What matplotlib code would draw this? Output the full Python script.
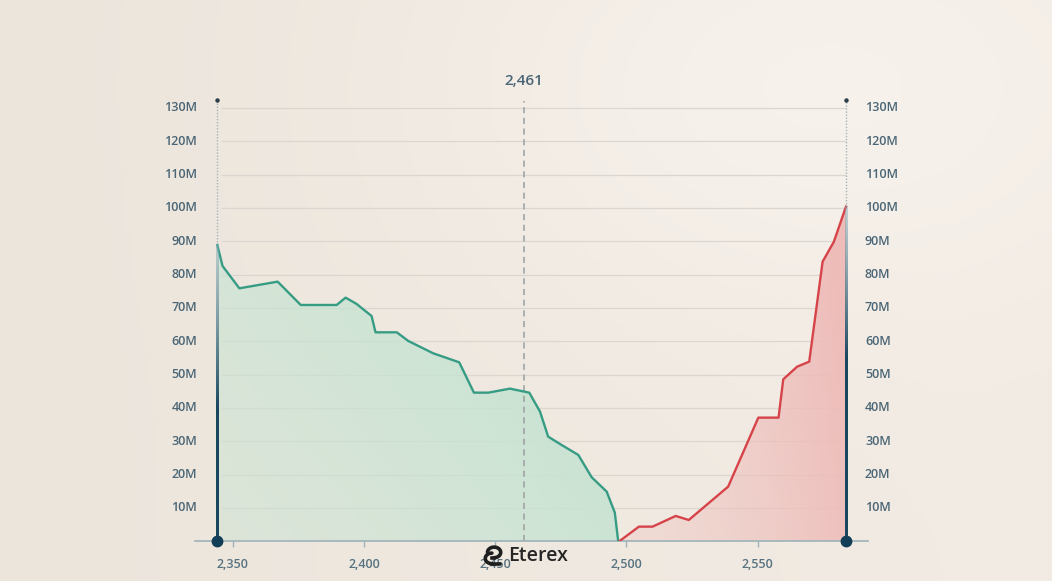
import numpy as np
import matplotlib
matplotlib.use("Agg")
import matplotlib.pyplot as plt
from matplotlib.patches import Polygon
from matplotlib.colors import to_rgb

# ---------------- data ----------------
bid_price = [2344.1, 2346.1, 2352.5, 2367.1, 2375.9, 2389.6, 2393.0, 2397.2, 2402.9,
             2404.4, 2412.5, 2416.9, 2426.4, 2436.3, 2441.9, 2447.4, 2455.6, 2463.0,
             2467.1, 2470.2, 2474.7, 2481.7, 2486.8, 2492.5, 2495.6, 2496.9]
bid_depth = [88.9, 82.6, 75.9, 77.9, 70.9, 70.9, 73.1, 71.2, 67.6,
             62.7, 62.7, 60.1, 56.4, 53.7, 44.6, 44.6, 45.8, 44.6,
             38.9, 31.4, 29.2, 25.9, 19.2, 14.9, 8.6, 0.0]
ask_price = [2497.3, 2504.8, 2510.0, 2518.8, 2523.8, 2538.8, 2550.3, 2558.0,
             2559.8, 2565.1, 2569.7, 2574.8, 2579.1, 2583.7]
ask_depth = [0.0, 4.4, 4.4, 7.6, 6.4, 16.4, 37.1, 37.1,
             48.6, 52.4, 53.9, 83.9, 89.9, 100.4]
mid_price = 2461
x_ticks = [2350, 2400, 2450, 2500, 2550]
x_tick_labels = ["2,350", "2,400", "2,450", "2,500", "2,550"]
y_ticks = [10, 20, 30, 40, 50, 60, 70, 80, 90, 100, 110, 120, 130]
y_tick_labels = ["10M", "20M", "30M", "40M", "50M", "60M", "70M", "80M", "90M",
                 "100M", "110M", "120M", "130M"]
y_top = 132.5

# ---------------- style ----------------
W, H = 1052, 581
fig = plt.figure(figsize=(W / 100, H / 100), dpi=100)
BG = "#f2ebe3"
fig.patch.set_facecolor(BG)
FONT = ["Open Sans", "DejaVu Sans"]
LABEL_C = "#4a6676"

# soft background gradient
bgax = fig.add_axes([0, 0, 1, 1], zorder=-10)
bgax.set_axis_off()
gx, gy = np.meshgrid(np.linspace(0, 1, 300), np.linspace(0, 1, 170))
c_left = np.array(to_rgb("#ece5dc"))
c_mid = np.array(to_rgb("#f2ebe3"))
c_light = np.array(to_rgb("#f8f3ee"))
t = np.clip(gx * 1.1, 0, 1)[..., None]
img = c_left * (1 - t) + c_mid * t
glow = np.exp(-(((gx - 0.78) / 0.35) ** 2 + ((gy - 0.15) / 0.4) ** 2))[..., None]
img = img * (1 - 0.8 * glow) + c_light * 0.8 * glow
bgax.imshow(img, extent=[0, 1, 0, 1], aspect="auto", origin="upper")

ax = fig.add_axes([195 / W, 1 - 541.3 / H, 673 / W, (541.3 - 98) / H])
ax.set_facecolor("none")
XL = (2335.6, 2592.1)
YL = (0, 133)

for s in ["top", "left", "right"]:
    ax.spines[s].set_visible(False)
ax.spines["bottom"].set_color("#9db2b8")
ax.spines["bottom"].set_linewidth(1.2)
ax.spines["bottom"].set_zorder(2)

x_left = bid_price[0]
x_right = ask_price[-1]

# grid lines
ax.hlines(y_ticks, x_left + 1.5, x_right, color="#dbd7d0", lw=0.9, zorder=0.5)


def gradient_fill(xs, ys, color, a_fn):
    verts = [(xs[0], 0)] + list(zip(xs, ys)) + [(xs[-1], 0)]
    poly = Polygon(verts, facecolor="none", edgecolor="none")
    ax.add_patch(poly)
    xmin, xmax = min(xs), max(xs)
    ymax = max(ys)
    X, Y = np.meshgrid(np.linspace(0, 1, 200), np.linspace(0, 1, 200))
    rgba = np.zeros((200, 200, 4))
    rgba[..., :3] = to_rgb(color)
    rgba[..., 3] = a_fn(X, Y)
    im = ax.imshow(rgba, extent=[xmin, xmax, 0, ymax], origin="lower",
                   aspect="auto", zorder=1, interpolation="bilinear")
    im.set_clip_path(poly)


gradient_fill(bid_price, bid_depth, "#c6e3d2",
              lambda X, Y: np.clip(0.4 + 0.45 * X + 0.25 * Y, 0, 1))
gradient_fill(ask_price, ask_depth, "#eebcb9",
              lambda X, Y: np.clip(0.3 + 0.6 * X ** 1.5 + 0.15 * Y, 0, 1))

ax.plot(bid_price, bid_depth, color="#379c84", lw=1.7, zorder=3,
        solid_joinstyle="round")
ax.plot(ask_price, ask_depth, color="#d6444a", lw=1.7, zorder=3,
        solid_joinstyle="round")


def gradient_vline(x, y1, fade_start):
    n = 300
    ys = np.linspace(0, 1, n)
    dark = np.array(to_rgb("#18475f"))
    light = np.array(to_rgb("#86adb9"))
    f = np.clip((ys * y1 - fade_start) / (y1 - fade_start), 0, 1)[:, None]
    rgba = np.zeros((n, 1, 4))
    rgba[:, 0, :3] = dark * (1 - f) + light * f
    rgba[:, 0, 3] = (1 - 0.55 * f)[:, 0]
    hw = 0.42
    ax.imshow(rgba, extent=[x - hw, x + hw, 0, y1], origin="lower",
              aspect="auto", zorder=4, interpolation="bilinear")
    ax.vlines(x, y1, y_top, colors="#a9b3b5", linestyles=(0, (1, 1.2)),
              lw=1.0, zorder=2)
    ax.plot([x], [0], "o", color="#123f57", ms=7.5, zorder=6, clip_on=False)
    ax.plot([x], [y_top], "o", color="#2a3f4a", ms=2.2, zorder=6,
            clip_on=False)


gradient_vline(x_left, bid_depth[0], 40)
gradient_vline(x_right, ask_depth[-1], 55)

ax.set_xlim(*XL)
ax.set_ylim(*YL)

# mid price line
ax.vlines(mid_price, 0, y_top - 0.5, colors="#9a9fa0", linestyles=(0, (4, 3)),
          lw=1.1, zorder=2)
ax.text(mid_price, 138, f"{mid_price:,}", ha="center", va="center",
        fontsize=11, color=LABEL_C, family=FONT, fontweight="semibold",
        clip_on=False)

# axes ticks
ax.set_xticks(x_ticks)
ax.set_xticklabels(x_tick_labels, family=FONT, fontweight="semibold")
ax.tick_params(axis="x", length=4, width=1, color="#9db2b8", pad=8,
               labelsize=9, labelcolor="#56727f")
ax.set_yticks([])

tr = ax.get_yaxis_transform()
for yv, lab in zip(y_ticks, y_tick_labels):
    ax.text(0.003, yv, lab, transform=tr, ha="right", va="center",
            fontsize=9, color=LABEL_C, family=FONT, fontweight="semibold",
            clip_on=False)
    ax.text(0.9955, yv, lab, transform=tr, ha="left", va="center",
            fontsize=9, color=LABEL_C, family=FONT, fontweight="semibold",
            clip_on=False)

# watermark logo
fig.text(538 / W, 1 - 556 / H, "Eterex", ha="center", va="center",
         fontsize=14, color="#262626", family=FONT, fontweight="semibold",
         zorder=20)
lax = fig.add_axes([482 / W, 1 - 568 / H, 22 / W, 24 / H], zorder=21)
lax.set_axis_off()
lax.set_xlim(0, 1)
lax.set_ylim(0, 1)
th = np.linspace(np.pi, -np.pi / 2, 50)
lax.plot(0.55 + 0.3 * np.cos(th), 0.65 + 0.22 * np.sin(th), color="#1e1e1e",
         lw=2.6, solid_capstyle="round")
th2 = np.linspace(np.pi / 2, 3 * np.pi / 2, 50)
lax.plot(0.45 + 0.3 * np.cos(th2), 0.4 + 0.22 * np.sin(th2), color="#1e1e1e",
         lw=2.6, solid_capstyle="round")
lax.plot([0.45, 0.55], [0.43, 0.43], color="#1e1e1e", lw=2.6)
lax.plot([0.45, 0.8], [0.18, 0.18], color="#1e1e1e", lw=2.6,
         solid_capstyle="round")

fig.savefig("out.png", dpi=100, facecolor=fig.get_facecolor())
